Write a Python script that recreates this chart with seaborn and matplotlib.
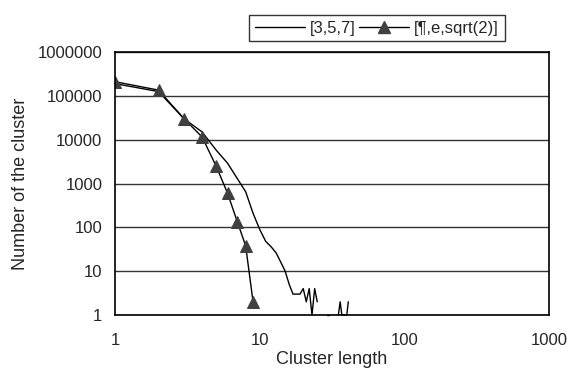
import numpy as np
import pandas as pd
import matplotlib
matplotlib.use("Agg")
import matplotlib.pyplot as plt
import seaborn as sns
from matplotlib.lines import Line2D
from matplotlib.ticker import FixedLocator, FixedFormatter, NullLocator

# Datos
len_357 = [1, 2, 3, 4, 5, 6, 7, 8, 9, 10, 11, 12, 13, 14, 15, 16, 17, 18, 19,
           20, 21, 22, 23, 24, 25, 29, 30, 35, 36, 37, 38, 39, 40, 41]
cnt_357 = [190000, 125000, 30000, 15000, 5800, 2900, 1300, 650, 210, 90, 48,
           36, 26, 16, 10, 5, 3, 3, 3, 4, 2, 4, 1, 4, 2, 1, 1, 1, 2, 1, 1, 1,
           1, 2]

len_pi = [1, 2, 3, 4, 5, 6, 7, 8, 9]
cnt_pi = [210000, 135000, 30000, 11500, 2500, 600, 135, 38, 2]

label_357 = "[3,5,7]"
label_pi = "[\u00b6,e,sqrt(2)]"

x_ticks = [1, 10, 100, 1000]
y_ticks = [1, 10, 100, 1000, 10000, 100000, 1000000]

sns.set_style("white")
plt.rcParams['font.family'] = ['Liberation Sans', 'DejaVu Sans']

# tramos contiguos (los huecos cortan la linea, como en el original)
df357 = pd.DataFrame({'x': len_357, 'y': cnt_357})
df357['seg'] = (df357['x'].diff().fillna(1) > 1).cumsum()
dfpi = pd.DataFrame({'x': len_pi, 'y': cnt_pi})

fig = plt.figure(figsize=(5.81, 3.74), dpi=100)
ax = fig.add_axes([115 / 581, 1 - 315 / 374, (549 - 115) / 581, (315 - 52) / 374])

sns.lineplot(data=df357, x='x', y='y', units='seg', estimator=None,
             color='black', lw=1.0, legend=False, ax=ax, clip_on=False)
sns.lineplot(data=dfpi, x='x', y='y', color='black', lw=1.0, marker='^',
             markersize=8, markerfacecolor='#404040', markeredgecolor='#404040',
             legend=False, ax=ax)

ax.set_xscale('log')
ax.set_yscale('log')
ax.set_xlim(1, 1000)
ax.set_ylim(1, 1000000)

ax.xaxis.set_major_locator(FixedLocator(x_ticks))
ax.xaxis.set_major_formatter(FixedFormatter([str(v) for v in x_ticks]))
ax.xaxis.set_minor_locator(NullLocator())
ax.yaxis.set_major_locator(FixedLocator(y_ticks))
ax.yaxis.set_major_formatter(FixedFormatter([str(v) for v in y_ticks]))
ax.yaxis.set_minor_locator(NullLocator())

ax.tick_params(axis='both', which='major', direction='out', length=5, width=1,
               color='black', labelsize=12)
ax.tick_params(axis='x', pad=8)
ax.tick_params(axis='y', pad=4)
ax.grid(True, axis='y', color='#333333', lw=1)
ax.grid(False, axis='x')
for s in ax.spines.values():
    s.set_color('black')
    s.set_linewidth(1.2)

ax.set_xlabel('Cluster length', fontsize=13, labelpad=2)
ax.set_ylabel('Number of the cluster', fontsize=13, labelpad=6)

handles = [
    Line2D([], [], color='black', lw=1.0),
    Line2D([], [], color='black', lw=1.0, marker='^', markersize=8,
           markerfacecolor='#404040', markeredgecolor='#404040'),
]
leg = fig.legend(handles, [label_357, label_pi], loc='center',
                 bbox_to_anchor=(377 / 581, 1 - 28 / 374), ncol=2,
                 fontsize=12, frameon=True, fancybox=False,
                 handlelength=3.0, handletextpad=0.3, columnspacing=0.2,
                 borderpad=0.35)
leg.get_frame().set_edgecolor('black')
leg.get_frame().set_linewidth(1.0)

fig.savefig('out.png', dpi=100)
